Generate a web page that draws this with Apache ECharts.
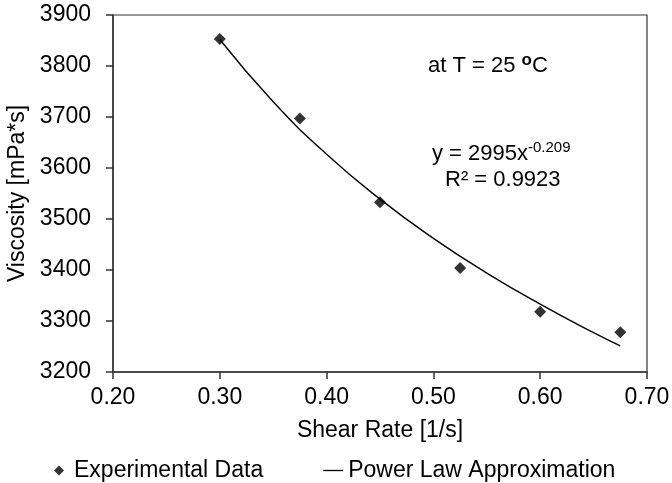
<!DOCTYPE html>
<html>
<head>
<meta charset="utf-8">
<script src="https://cdn.jsdelivr.net/npm/echarts@6/dist/echarts.min.js"></script>
<style>
html,body{margin:0;padding:0;background:#fff;}
#chart{width:672px;height:483px;}
</style>
</head>
<body>
<div id="chart"></div>
<script>
// Experimental data
const shearRate = [0.30, 0.375, 0.45, 0.525, 0.60, 0.675];
const viscosity = [3853, 3697, 3533, 3404, 3318, 3278];
// Power law trendline
const fitX = [0.30, 0.35, 0.40, 0.45, 0.50, 0.55, 0.60, 0.65, 0.675];
const fitY = [3852, 3730, 3627, 3539, 3462, 3394, 3333, 3277, 3251];
const xTicks = [0.20, 0.30, 0.40, 0.50, 0.60, 0.70];
const yTicks = [3200, 3300, 3400, 3500, 3600, 3700, 3800, 3900];

const FONT = '"Liberation Sans", Arial, sans-serif';
const chart = echarts.init(document.getElementById('chart'), null, {renderer: 'canvas'});

chart.setOption({
  backgroundColor: '#fff',
  animation: false,
  textStyle: {fontFamily: FONT},
  grid: {left: 113, right: 25, top: 15, bottom: 111, show: true, borderColor: '#333', borderWidth: 1.2,
         containLabel: false, outerBoundsMode: 'none'},
  xAxis: {
    type: 'value', min: xTicks[0], max: xTicks[xTicks.length - 1], interval: 0.1,
    name: 'Shear Rate [1/s]', nameLocation: 'middle', nameGap: 47,
    nameTextStyle: {fontSize: 23, color: '#000', fontFamily: FONT},
    axisLine: {show: true, onZero: false, lineStyle: {color: '#333', width: 1.5}},
    axisTick: {show: true, length: 7, inside: false, lineStyle: {color: '#333', width: 1.5}},
    axisLabel: {fontSize: 23, color: '#000', margin: 14, fontFamily: FONT, formatter: v => v.toFixed(2)},
    splitLine: {show: false}
  },
  yAxis: {
    type: 'value', min: yTicks[0], max: yTicks[yTicks.length - 1], interval: 100,
    name: 'Viscosity [mPa*s]', nameLocation: 'middle', nameGap: 80, nameRotate: 90,
    nameTextStyle: {fontSize: 23, color: '#000', fontFamily: FONT},
    axisLine: {show: true, onZero: false, lineStyle: {color: '#333', width: 1.5}},
    axisTick: {show: true, length: 7, inside: false, lineStyle: {color: '#333', width: 1.5}},
    axisLabel: {fontSize: 23, color: '#000', margin: 22, fontFamily: FONT, formatter: v => String(v)},
    splitLine: {show: false}
  },
  legend: {
    left: 49, top: 454, itemGap: 60, itemWidth: 20, itemHeight: 10, symbolKeepAspect: true,
    textStyle: {fontSize: 23, color: '#000', fontFamily: FONT},
    data: [
      {name: 'Experimental Data', icon: 'path://M5,0 L10,5 L5,10 L0,5 Z'},
      {name: 'Power Law Approximation', icon: 'path://M0,0 L20,0 L20,1.3 L0,1.3 Z'}
    ]
  },
  graphic: [
    {type: 'text', left: 428, top: 52, style: {
      rich: {
        n: {fontSize: 22, fontFamily: FONT, fill: '#000'},
        s: {fontSize: 17, fontFamily: FONT, fontWeight: 'bold', fill: '#000', verticalAlign: 'top', padding: [0, 0, 10, 0]}
      },
      text: '{n|at T = 25 }{s|o}{n|C}'
    }},
    {type: 'text', left: 432, top: 140, style: {
      rich: {
        n: {fontSize: 22, fontFamily: FONT, fill: '#000'},
        s: {fontSize: 15, fontFamily: FONT, fill: '#000', padding: [0, 0, 12, 0]}
      },
      text: '{n|y = 2995x}{s|-0.209}'
    }},
    {type: 'text', left: 445, top: 169, style: {
      text: 'R² = 0.9923', fontSize: 22, fontFamily: FONT, fill: '#000'
    }}
  ],
  series: [
    {
      name: 'Experimental Data', type: 'scatter', symbol: 'diamond', symbolSize: 12,
      itemStyle: {color: '#000'},
      data: shearRate.map((x, i) => [x, viscosity[i]]),
      z: 3
    },
    {
      name: 'Power Law Approximation', type: 'line', smooth: true, showSymbol: false, symbol: 'none',
      lineStyle: {color: '#000', width: 1.4},
      itemStyle: {color: '#000'},
      data: fitX.map((x, i) => [x, fitY[i]]),
      z: 2
    }
  ]
});
</script>
</body>
</html>
